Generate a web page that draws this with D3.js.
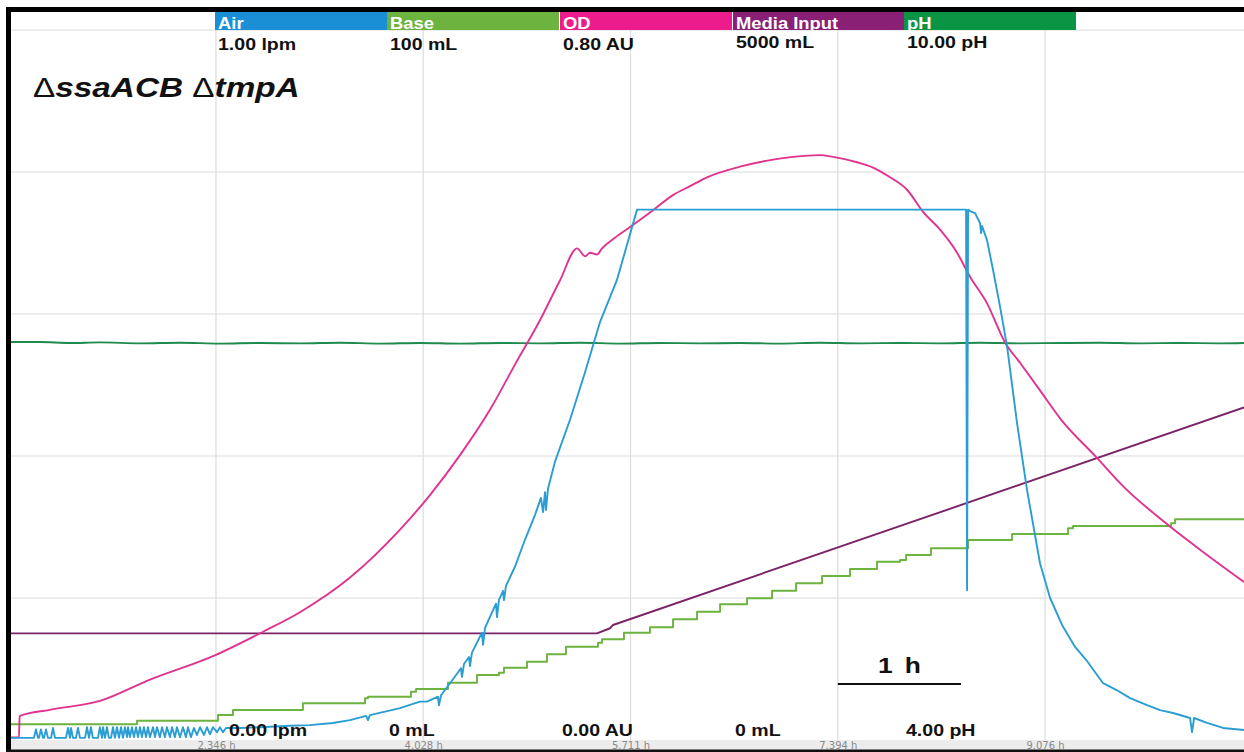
<!DOCTYPE html>
<html>
<head>
<meta charset="utf-8">
<script src="https://cdn.jsdelivr.net/npm/d3@7"></script>
<style>
  html, body { margin: 0; padding: 0; background: #fff; }
  svg { display: block; font-family: "Liberation Sans", Arial, sans-serif; }
</style>
</head>
<body>
<svg id="chart" width="1244" height="752"></svg>
<script>
// ---- time axis (hours) ----
const timeDomain = [0.674, 10.691];
const timeTicks = [2.346, 4.028, 5.711, 7.394, 9.076];
const scaleBarHours = 1;

// ---- channels ----
const channelNames = ["Air", "Base", "OD", "Media Input", "pH"];
const channelMaxLabels = ["1.00 lpm", "100 mL", "0.80 AU", "5000 mL", "10.00 pH"];
const channelMinLabels = ["0.00 lpm", "0 mL", "0.00 AU", "0 mL", "4.00 pH"];
const channelRanges = [[0, 1], [0, 100], [0, 0.8], [0, 5000], [4, 10]];

// ---- series: [time h, value] ----
const airFlow = [
  [0.674,0.003],
  [0.868,0.003],[0.885,0.015],[0.901,0.003],
  [0.909,0.003],[0.925,0.015],[0.942,0.003],
  [0.950,0.003],[0.966,0.015],[0.982,0.003],
  [1.007,0.003],[1.023,0.017],[1.039,0.003],
  [1.128,0.003],[1.145,0.017],[1.161,0.003],[1.169,0.017],[1.185,0.003],
  [1.209,0.003],[1.226,0.017],[1.242,0.003],
  [1.283,0.003],[1.299,0.018],[1.315,0.003],[1.331,0.018],[1.347,0.003],
  [1.388,0.003],[1.404,0.018],[1.421,0.003],[1.429,0.018],[1.445,0.003],[1.461,0.018],[1.477,0.003],
  [1.494,0.003],[1.510,0.018],[1.526,0.003],[1.542,0.018],[1.559,0.003],[1.575,0.018],[1.591,0.003],
  [1.607,0.018],[1.624,0.004],[1.632,0.018],[1.648,0.004],[1.664,0.018],[1.680,0.004],[1.697,0.018],
  [1.713,0.004],[1.729,0.018],[1.745,0.004],[1.761,0.018],[1.778,0.004],[1.794,0.018],[1.810,0.004],
  [1.835,0.018],[1.851,0.004],[1.867,0.018],[1.891,0.004],[1.908,0.018],[1.932,0.004],[1.948,0.018],
  [1.973,0.004],[1.989,0.018],[2.013,0.004],[2.029,0.018],[2.054,0.004],[2.078,0.018],[2.102,0.004],
  [2.119,0.018],[2.143,0.004],[2.167,0.017],[2.192,0.007],[2.216,0.018],[2.249,0.007],[2.273,0.018],
  [2.297,0.008],[2.322,0.018],[2.354,0.011],[2.378,0.018],[2.403,0.011],[2.427,0.017],
  [2.541,0.017],[2.703,0.018],[2.947,0.020],[3.109,0.021],[3.296,0.024],[3.434,0.028],
  [3.564,0.034],[3.580,0.028],[3.596,0.035],[3.840,0.045],[4.002,0.054],[4.059,0.054],
  [4.148,0.061],[4.156,0.049],[4.173,0.063],[4.246,0.080],[4.335,0.101],[4.343,0.089],
  [4.359,0.107],[4.400,0.117],[4.408,0.104],[4.424,0.123],[4.505,0.151],[4.514,0.134],
  [4.530,0.158],[4.595,0.183],[4.619,0.192],[4.627,0.173],[4.643,0.197],[4.676,0.210],
  [4.684,0.197],[4.700,0.217],[4.773,0.244],[4.854,0.282],[4.936,0.317],[4.984,0.341],
  [5.001,0.321],[5.017,0.349],[5.025,0.324],[5.041,0.354],[5.098,0.392],[5.220,0.451],
  [5.342,0.518],[5.464,0.589],[5.601,0.648],[5.764,0.747],
  [8.435,0.747],[8.443,0.211],[8.451,0.747],
  [8.467,0.745],[8.508,0.742],[8.548,0.728],[8.557,0.714],[8.565,0.724],[8.605,0.704],
  [8.654,0.662],[8.711,0.610],[8.768,0.554],[8.849,0.446],[8.930,0.352],[9.035,0.249],
  [9.117,0.200],[9.214,0.162],[9.320,0.131],[9.409,0.113],[9.547,0.080],[9.661,0.070],
  [9.766,0.059],[9.904,0.049],[10.010,0.042],[10.115,0.038],[10.253,0.031],[10.269,0.011],
  [10.286,0.031],[10.391,0.024],[10.521,0.017],[10.691,0.014]
];

const baseVolume = [
  [0.674,2.21],[1.705,2.72],[2.362,3.52],[2.484,4.23],[3.052,5.17],[3.556,5.87],
  [3.580,6.10],[3.929,6.80],[3.970,7.18],[4.229,8.07],[4.465,9.15],[4.643,9.48],
  [4.684,10.18],[4.871,11.03],[5.033,12.07],[5.187,13.14],[5.447,13.70],[5.480,14.18],
  [5.658,15.11],[5.869,15.87],[6.056,17.00],[6.251,18.07],[6.438,19.11],[6.657,19.96],
  [6.860,21.03],[7.055,22.07],[7.266,23.10],[7.493,24.09],[7.712,25.11],[7.899,25.35],
  [7.948,26.06],[8.150,27.00],[8.451,28.17],[8.808,29.01],[9.263,29.82],[9.303,30.14],
  [10.099,30.52],[10.131,31.09],[10.691,31.09]
];

const opticalDensity = [
  [0.674,0.003],[0.747,0.003],[0.752,0.027],[0.998,0.034],[1.404,0.044],[1.810,0.068],
  [2.346,0.096],[2.728,0.122],[3.028,0.144],[3.434,0.183],[3.840,0.237],[4.083,0.276],
  [4.327,0.321],[4.570,0.372],[4.773,0.423],[4.976,0.473],[5.139,0.518],[5.277,0.554],
  [5.342,0.545],[5.382,0.549],[5.439,0.547],[5.480,0.554],[5.585,0.566],[5.707,0.578],
  [5.894,0.597],[6.056,0.614],[6.194,0.624],[6.332,0.634],[6.600,0.646],[6.868,0.654],
  [7.030,0.657],[7.249,0.659],[7.355,0.657],[7.550,0.651],[7.680,0.645],[7.818,0.634],
  [7.956,0.620],[8.086,0.595],[8.224,0.575],[8.362,0.549],[8.467,0.522],[8.605,0.492],
  [8.751,0.448],[8.873,0.425],[9.035,0.394],[9.206,0.361],[9.490,0.319],[9.717,0.285],
  [10.050,0.245],[10.367,0.211],[10.691,0.178]
];

const mediaInput = [
  [0.674,751],[5.439,751],[5.545,787],[5.569,810],[10.691,2342]
];

const phValue = [
  [0.674,7.363],[0.917,7.363],[1.161,7.355],[1.404,7.360],[1.729,7.352],[2.054,7.357],
  [2.378,7.350],[2.703,7.355],[3.028,7.352],[3.353,7.357],[3.677,7.350],[4.002,7.355],
  [4.327,7.350],[4.652,7.355],[4.976,7.352],[5.301,7.357],[5.626,7.350],[5.951,7.355],
  [6.275,7.352],[6.600,7.355],[6.925,7.350],[7.249,7.357],[7.574,7.352],[7.899,7.355],
  [8.224,7.352],[8.548,7.357],[8.873,7.352],[9.198,7.355],[9.523,7.357],[9.847,7.352],
  [10.172,7.355],[10.497,7.352],[10.691,7.355]
];

// ---- layout ----
const W = 1244, H = 752;
const frameLeft = 6, frameTop = 7;
const plotLeft = 11, plotRight = 1244, plotTop = 30, plotBottom = 740;
const headerColors = ["#1b8fd6", "#6cb33f", "#ec1c8c", "#8a1f76", "#0b9444"];
const lineColors   = ["#2a9dd3", "#6cb33f", "#e0338f", "#7a2366", "#1e8a4c"];
const headerX = [215, 387, 560, 733, 904];
const headerW = 172;
const textStretch = 1.15;   // labels are drawn slightly wide

const svg = d3.select("#chart");

const x = d3.scaleLinear().domain(timeDomain).range([plotLeft - 1, plotRight]);
const yScales = channelRanges.map(r => d3.scaleLinear().domain(r).range([plotBottom, plotTop]));

// text placed at (tx, ty) with horizontal stretch
function label(parent, tx, ty, str, size, opts = {}) {
  const t = parent.append("text")
    .attr("transform", `translate(${tx},${ty}) scale(${opts.stretch || textStretch},1)`)
    .attr("font-size", size)
    .attr("font-weight", opts.weight || "bold")
    .attr("fill", opts.fill || "#111")
    .attr("text-anchor", opts.anchor || "start");
  if (str !== null) t.text(str);
  return t;
}

// white background
svg.append("rect").attr("width", W).attr("height", H).attr("fill", "#fff");

// bottom tick band
svg.append("rect")
  .attr("x", plotLeft).attr("y", plotBottom)
  .attr("width", plotRight - plotLeft).attr("height", H - plotBottom)
  .attr("fill", "#ececec");

// horizontal grid
const hGrid = d3.range(5).map(i => plotTop + i * (plotBottom - plotTop) / 5);
svg.append("g").selectAll("line").data(hGrid).join("line")
  .attr("x1", plotLeft).attr("x2", plotRight)
  .attr("y1", d => d).attr("y2", d => d)
  .attr("stroke", "#dcdcdc").attr("stroke-width", 1.2);

// vertical grid
svg.append("g").selectAll("line").data(timeTicks).join("line")
  .attr("x1", d => x(d)).attr("x2", d => x(d))
  .attr("y1", plotTop).attr("y2", plotBottom)
  .attr("stroke", "#dcdcdc").attr("stroke-width", 1.2);

// time tick labels via axis
const xAxis = d3.axisBottom(x).tickValues(timeTicks)
  .tickFormat(d => d3.format(".3f")(d) + " h").tickSize(0);
const gx = svg.append("g").attr("transform", `translate(0,${plotBottom})`).call(xAxis);
gx.select(".domain").remove();
gx.selectAll("text").attr("fill", "#8a8a8a").attr("font-size", 10)
  .attr("font-family", "'DejaVu Sans', sans-serif").attr("dy", 0).attr("y", 8.5);

// series
const seriesData = [airFlow, baseVolume, opticalDensity, mediaInput, phValue];
const seriesCurves = [d3.curveLinear, d3.curveStepAfter, d3.curveMonotoneX, d3.curveLinear, d3.curveMonotoneX];
const drawOrder = [4, 3, 1, 2, 0];
const gLines = svg.append("g");
drawOrder.forEach(i => {
  const y = yScales[i];
  const line = d3.line()
    .x(d => x(d[0])).y(d => y(d[1]))
    .curve(seriesCurves[i]);
  gLines.append("path")
    .datum(seriesData[i])
    .attr("d", line)
    .attr("fill", "none")
    .attr("stroke", lineColors[i])
    .attr("stroke-width", 1.9)
    .attr("stroke-linejoin", "round");
});

// header bars with channel names and full-scale labels, min labels at bottom
const header = svg.append("g");
channelNames.forEach((name, i) => {
  header.append("rect")
    .attr("x", headerX[i]).attr("y", 12)
    .attr("width", headerW).attr("height", 18)
    .attr("fill", headerColors[i]);
  label(header, headerX[i] + 3, 28.5, name, 16, { fill: "#fff" });
  label(header, headerX[i] + 3, i >= 3 ? 48 : 50, channelMaxLabels[i], 17);
  label(header, headerX[i] + (i === 0 ? 14 : 2), 736, channelMinLabels[i], 17);
});

// title
const title = label(svg, 33, 97, null, 28, { stretch: 1.19 });
title.append("tspan").attr("font-weight", "normal").text("Δ");
title.append("tspan").attr("font-style", "italic").text("ssaACB ");
title.append("tspan").attr("font-weight", "normal").text("Δ");
title.append("tspan").attr("font-style", "italic").text("tmpA");

// 1 h scale bar
const barStart = 7.394;
svg.append("line")
  .attr("x1", x(barStart)).attr("x2", x(barStart + scaleBarHours))
  .attr("y1", 684).attr("y2", 684)
  .attr("stroke", "#111").attr("stroke-width", 2);
label(svg, (x(barStart) + x(barStart + scaleBarHours)) / 2, 673, "1 h", 22, { anchor: "middle", stretch: 1.2 })
  .attr("word-spacing", 4);

// frame
svg.append("rect").attr("x", frameLeft).attr("y", frameTop).attr("width", W - frameLeft).attr("height", 5).attr("fill", "#000");
svg.append("rect").attr("x", frameLeft).attr("y", frameTop).attr("width", 5).attr("height", H - frameTop).attr("fill", "#000");
svg.append("rect").attr("x", frameLeft).attr("y", 749.5).attr("width", W - frameLeft).attr("height", 2.5).attr("fill", "#111");
</script>
</body>
</html>
